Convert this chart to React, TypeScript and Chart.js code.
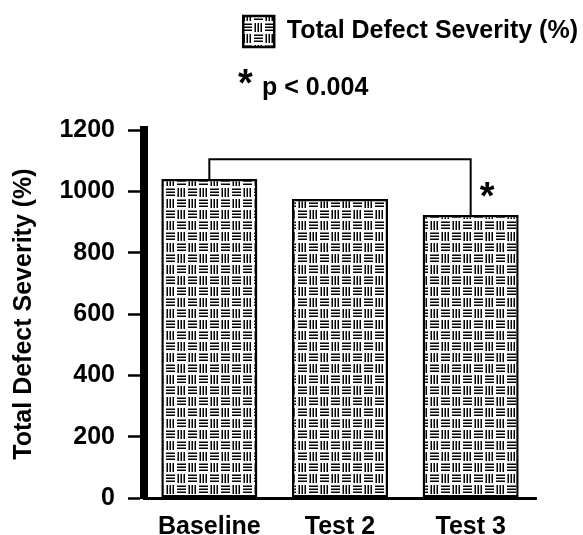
import React, { useEffect, useRef } from 'react';
import { Chart, registerables, layouts } from 'chart.js';

Chart.register(...registerables);

// ---- data ----
const categories = ['Baseline', 'Test 2', 'Test 3'];
const severity = [1040, 975, 923];
const yTickValues = [0, 200, 400, 600, 800, 1000, 1200];
const seriesLabel = 'Total Defect Severity (%)';
const yAxisTitle = 'Total Defect Severity (%)';
const sigNote = 'p < 0.004';
const sigMark = '*';
const bracketFrom = 0;
const bracketTo = 2;
const bracketLevel = 1105;

const FAMILY = "'Liberation Sans', Arial, Helvetica, sans-serif";

function makePattern(): CanvasPattern | string {
  const c = document.createElement('canvas');
  c.width = 22;
  c.height = 22;
  const g = c.getContext('2d');
  if (!g) return '#888';
  g.fillStyle = '#fff';
  g.fillRect(0, 0, 22, 22);
  g.fillStyle = '#000';
  for (let by = 0; by < 2; by++) {
    for (let bx = 0; bx < 2; bx++) {
      const ox = bx * 11;
      const oy = by * 11;
      const horiz = (bx + by) % 2 === 0;
      for (let k = 0; k < 3; k++) {
        if (horiz) g.fillRect(ox + 1, oy + 1.5 + k * 3, 9, 1.5);
        else g.fillRect(ox + 1.5 + k * 3, oy + 1, 1.5, 9);
      }
    }
  }
  const p = g.createPattern(c, 'repeat');
  return p || '#888';
}

function makeBox(position: string, weight: number, fullSize: boolean, size: number, drawFn: (box: any) => void) {
  const horizontal = position === 'top' || position === 'bottom';
  const box: any = {
    position,
    weight,
    fullSize,
    options: {},
    top: 0,
    bottom: 0,
    left: 0,
    right: 0,
    width: 0,
    height: 0,
    isHorizontal() {
      return horizontal;
    },
    update(maxWidth: number, maxHeight: number) {
      if (horizontal) {
        this.width = maxWidth;
        this.height = size;
      } else {
        this.width = size;
        this.height = maxHeight;
      }
    },
    draw() {
      drawFn(this);
    },
  };
  return box;
}

const annotationPlugin = {
  id: 'sigAnnotations',
  beforeInit(chart: any) {
    const note = makeBox('top', 500, true, 73, (box: any) => {
      const ctx = chart.ctx;
      ctx.save();
      ctx.fillStyle = '#000';
      ctx.textAlign = 'left';
      ctx.textBaseline = 'alphabetic';
      ctx.font = `bold 38px ${FAMILY}`;
      ctx.fillText(sigMark, 238, box.top + 39);
      ctx.font = `bold 25px ${FAMILY}`;
      ctx.fillText(sigNote, 262, box.top + 38);
      ctx.restore();
    });
    const spacer = makeBox('right', 0, false, 47, () => {});
    layouts.addBox(chart, note);
    layouts.addBox(chart, spacer);
  },
  afterDatasetsDraw(chart: any) {
    const { ctx } = chart;
    const xs = chart.scales.x;
    const ys = chart.scales.y;
    const x0 = xs.getPixelForValue(bracketFrom);
    const x1 = xs.getPixelForValue(bracketTo);
    const yTop = ys.getPixelForValue(bracketLevel);
    const y0 = ys.getPixelForValue(severity[bracketFrom]);
    const y1 = ys.getPixelForValue(severity[bracketTo]);
    ctx.save();
    ctx.strokeStyle = '#000';
    ctx.lineWidth = 2;
    ctx.beginPath();
    ctx.moveTo(x0, y0);
    ctx.lineTo(x0, yTop);
    ctx.lineTo(x1, yTop);
    ctx.lineTo(x1, y1);
    ctx.stroke();
    ctx.fillStyle = '#000';
    ctx.font = `bold 38px ${FAMILY}`;
    ctx.textAlign = 'left';
    ctx.textBaseline = 'alphabetic';
    ctx.fillText(sigMark, x1 + 9, y1 - 6);
    ctx.restore();
  },
};

export default function App() {
  const ref = useRef<HTMLCanvasElement | null>(null);

  useEffect(() => {
    if (!ref.current) return;
    const pattern = makePattern();
    const font = { family: FAMILY, size: 25, weight: 'bold' as const };
    const chart = new Chart(ref.current, {
      type: 'bar',
      data: {
        labels: categories,
        datasets: [
          {
            label: seriesLabel,
            data: severity,
            backgroundColor: pattern as any,
            borderColor: '#000',
            borderWidth: 2.5,
            borderSkipped: false,
            barPercentage: 0.735,
            categoryPercentage: 1,
          },
        ],
      },
      options: {
        animation: false,
        responsive: true,
        maintainAspectRatio: false,
        layout: { padding: { top: 11, left: 0, right: 0, bottom: 0 } },
        plugins: {
          legend: {
            position: 'top',
            align: 'end',
            labels: {
              font,
              color: '#000',
              boxWidth: 31,
              boxHeight: 31,
              padding: 5,
            },
          },
          tooltip: { enabled: false },
          title: { display: false },
        },
        scales: {
          x: {
            offset: true,
            ticks: { font, color: '#000', padding: 14 },
            grid: { display: false, drawTicks: false },
            border: { display: true, width: 3, color: '#000' },
            afterFit: (s: any) => {
              s.height = 37;
            },
          },
          y: {
            min: 0,
            max: 1200,
            afterBuildTicks: (s: any) => {
              s.ticks = yTickValues.map((v) => ({ value: v }));
            },
            ticks: {
              font,
              color: '#000',
              padding: 13,
              callback: (v: any) => String(v),
            },
            grid: {
              display: true,
              drawOnChartArea: false,
              drawTicks: true,
              tickLength: 16,
              tickWidth: 2.5,
              tickColor: '#000',
            },
            border: { display: true, width: 8, color: '#000' },
            title: {
              display: true,
              text: yAxisTitle,
              font,
              color: '#000',
              padding: { top: 9, bottom: 0 },
            },
            afterFit: (s: any) => {
              s.width = 144;
            },
          },
        },
      },
      plugins: [annotationPlugin],
    });
    return () => chart.destroy();
  }, []);

  return (
    <div style={{ position: 'absolute', left: 0, top: 0, width: 583, height: 535, background: '#fff' }}>
      <canvas ref={ref} />
    </div>
  );
}
